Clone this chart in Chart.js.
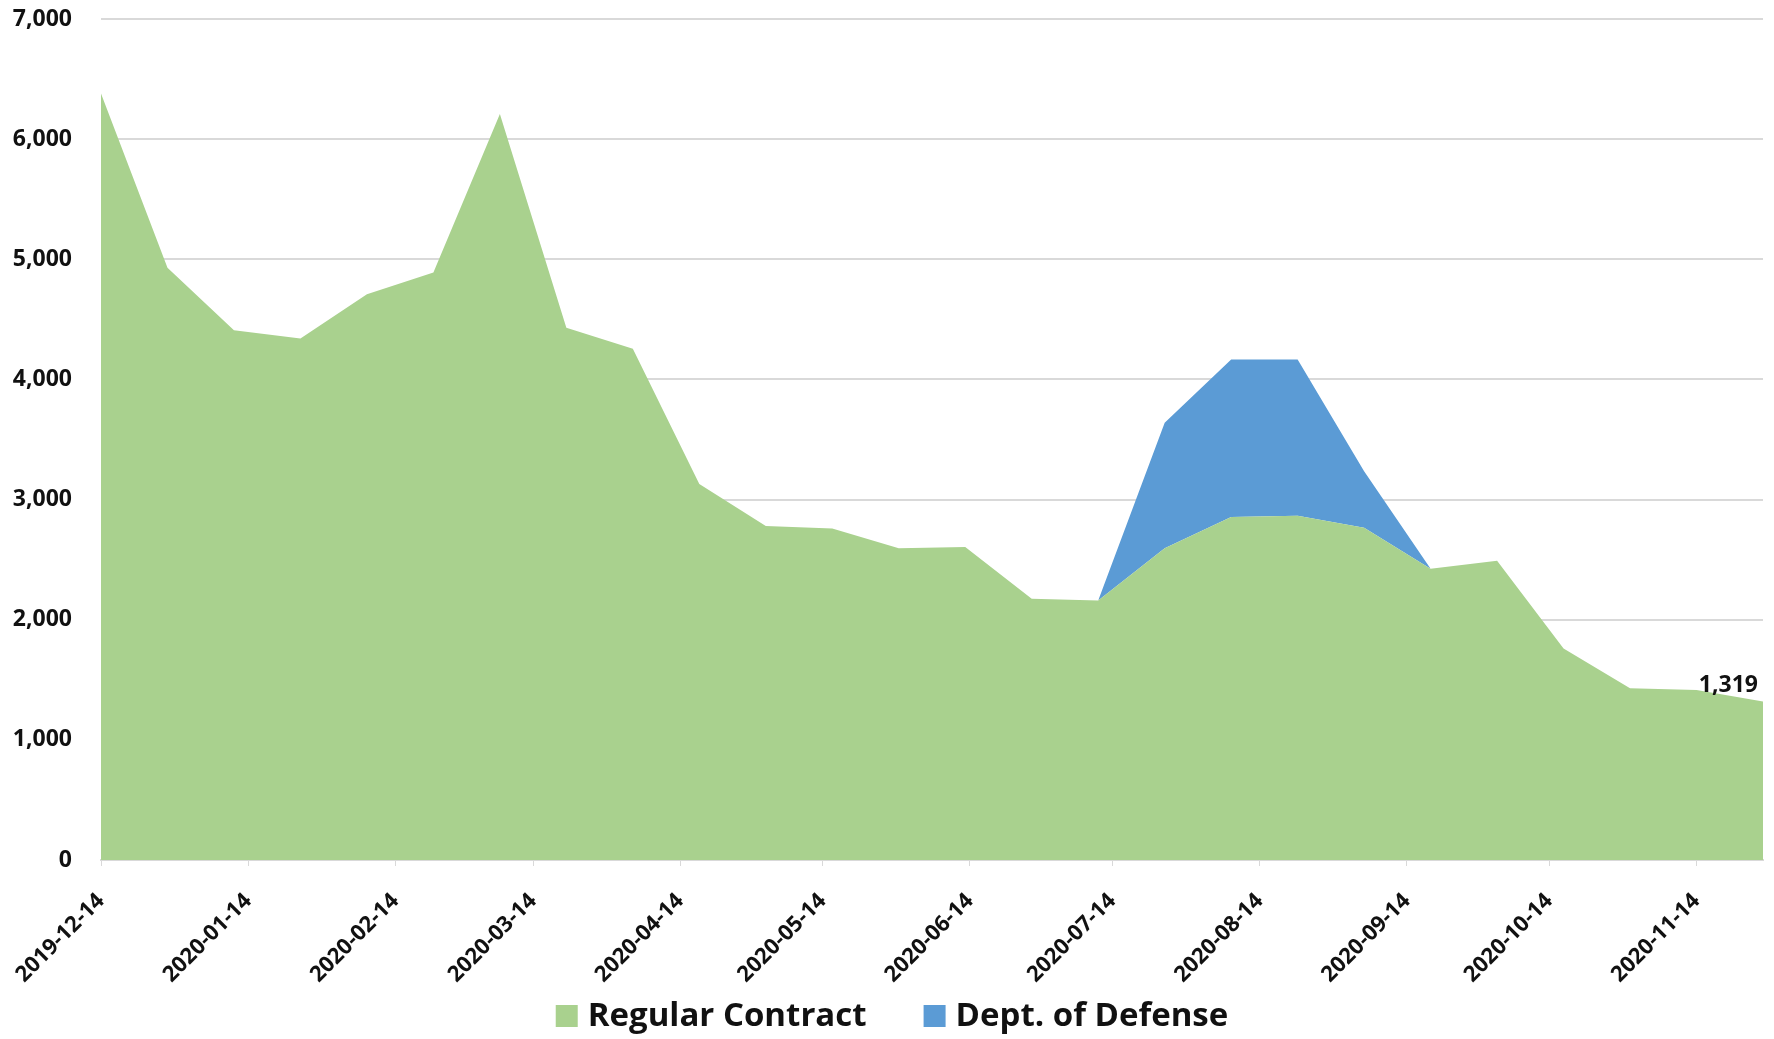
<!DOCTYPE html>
<html>
<head>
<meta charset="utf-8">
<script src="https://cdn.jsdelivr.net/npm/chart.js@4/dist/chart.umd.min.js"></script>
<style>
  html, body { margin: 0; padding: 0; background: #ffffff; }
  #wrap { width: 1774px; height: 1039px; position: relative; }
</style>
</head>
<body>
<div id="wrap"><canvas id="c"></canvas></div>
<script>
// ---- Data ----
const pointDates = ['2019-12-14','2019-12-28','2020-01-11','2020-01-25','2020-02-08','2020-02-22',
  '2020-03-07','2020-03-21','2020-04-04','2020-04-18','2020-05-02','2020-05-16','2020-05-30',
  '2020-06-13','2020-06-27','2020-07-11','2020-07-25','2020-08-08','2020-08-22','2020-09-05',
  '2020-09-19','2020-10-03','2020-10-17','2020-10-31','2020-11-14','2020-11-28'];
const regularContract = [6380, 4930, 4410, 4340, 4710, 4890, 6210, 4430, 4255, 3130, 2780, 2760, 2595,
  2605, 2175, 2160, 2595, 2855, 2865, 2765, 2425, 2490, 1760, 1430, 1415, 1319];
const deptOfDefense = [null, null, null, null, null, null, null, null, null, null, null, null, null,
  null, null, 0, 1045, 1310, 1300, 470, 0, null, null, null, null, null];
const tickDates = ['2019-12-14','2020-01-14','2020-02-14','2020-03-14','2020-04-14','2020-05-14',
  '2020-06-14','2020-07-14','2020-08-14','2020-09-14','2020-10-14','2020-11-14'];
const yTicks = [0, 1000, 2000, 3000, 4000, 5000, 6000, 7000];
const seriesNames = ['Regular Contract', 'Dept. of Defense'];
const seriesColors = ['#a9d18e', '#5b9bd5'];
const lastLabel = '1,319';

// ---- helpers ----
const DAY = 86400000;
const startMs = Date.parse(pointDates[0] + 'T00:00:00Z');
const toDay = s => Math.round((Date.parse(s + 'T00:00:00Z') - startMs) / DAY);
const tickDays = tickDates.map(toDay);
const dayToLabel = {};
tickDates.forEach((d, i) => { dayToLabel[tickDays[i]] = d; });

const regPts = pointDates.map((d, i) => ({ x: toDay(d), y: regularContract[i] }));
const dodPts = pointDates.map((d, i) => ({ x: toDay(d), y: deptOfDefense[i] }));

const FONT = '"Open Sans", Lato, sans-serif';

const labelPlugin = {
  id: 'lastLabel',
  afterDatasetsDraw(chart) {
    const meta = chart.getDatasetMeta(0);
    const el = meta.data[meta.data.length - 1];
    const ctx = chart.ctx;
    ctx.save();
    ctx.font = 'bold 23px ' + FONT;
    ctx.fillStyle = '#111';
    ctx.textAlign = 'right';
    ctx.textBaseline = 'alphabetic';
    ctx.fillText(lastLabel, el.x - 5, el.y - 10);
    ctx.restore();
  }
};

// Legend drawn at the bottom, centred, using the dataset labels/colours
const legendPlugin = {
  id: 'bottomLegend',
  afterDraw(chart) {
    const ctx = chart.ctx;
    const box = 22, gapText = 10, gapItem = 57;
    const cy = 1016;
    ctx.save();
    ctx.font = 'bold 33px ' + FONT;
    const items = chart.data.datasets.map(ds => ({ text: ds.label, color: ds.backgroundColor, w: ctx.measureText(ds.label).width }));
    let total = 0;
    items.forEach((it, i) => { total += box + gapText + it.w + (i < items.length - 1 ? gapItem : 0); });
    let x = 892 - total / 2;
    ctx.textBaseline = 'middle';
    ctx.textAlign = 'left';
    items.forEach(it => {
      ctx.fillStyle = it.color;
      ctx.fillRect(x, cy - box / 2, box, box);
      x += box + gapText;
      ctx.fillStyle = '#111';
      ctx.fillText(it.text, x, cy + 1);
      x += it.w + gapItem;
    });
    ctx.restore();
  }
};

new Chart(document.getElementById('c'), {
  type: 'line',
  data: {
    datasets: [
      {
        label: seriesNames[0],
        data: regPts,
        backgroundColor: seriesColors[0],
        borderColor: seriesColors[0],
        borderWidth: 0,
        pointRadius: 0,
        fill: 'origin',
        tension: 0,
        stack: 's'
      },
      {
        label: seriesNames[1],
        data: dodPts,
        backgroundColor: seriesColors[1],
        borderColor: seriesColors[1],
        borderWidth: 0,
        pointRadius: 0,
        fill: '-1',
        tension: 0,
        spanGaps: false,
        stack: 's'
      }
    ]
  },
  options: {
    responsive: true,
    maintainAspectRatio: false,
    animation: false,
    layout: { padding: { left: 0, right: 11, top: 19, bottom: 54 } },
    plugins: {
      legend: { display: false },
      tooltip: { enabled: false }
    },
    scales: {
      x: {
        type: 'linear',
        min: 0,
        max: toDay(pointDates[pointDates.length - 1]),
        afterBuildTicks(axis) { axis.ticks = tickDays.map(v => ({ value: v })); },
        afterFit(scale) { scale.paddingLeft = 0; scale.paddingRight = 0; scale.height = 125; },
        ticks: {
          autoSkip: false,
          maxRotation: 45,
          minRotation: 45,
          padding: 22,
          color: '#111',
          font: { family: FONT, size: 22, weight: 'bold' },
          callback: v => dayToLabel[v] || ''
        },
        grid: { drawOnChartArea: false, drawTicks: true, tickLength: 6, color: '#d9d9d9', lineWidth: 1 },
        border: { color: '#d9d9d9', width: 2 }
      },
      y: {
        stacked: true,
        min: 0,
        max: 7000,
        afterBuildTicks(axis) { axis.ticks = yTicks.map(v => ({ value: v })); },
        afterFit(scale) { scale.paddingTop = 0; scale.paddingBottom = 0; scale.width = 101; },
        ticks: {
          padding: 29,
          color: '#111',
          font: { family: FONT, size: 23, weight: 'bold' },
          callback: v => v.toLocaleString('en-US')
        },
        grid: { color: '#d9d9d9', lineWidth: 2, drawTicks: false },
        border: { display: false }
      }
    }
  },
  plugins: [labelPlugin, legendPlugin]
});
</script>
</body>
</html>
